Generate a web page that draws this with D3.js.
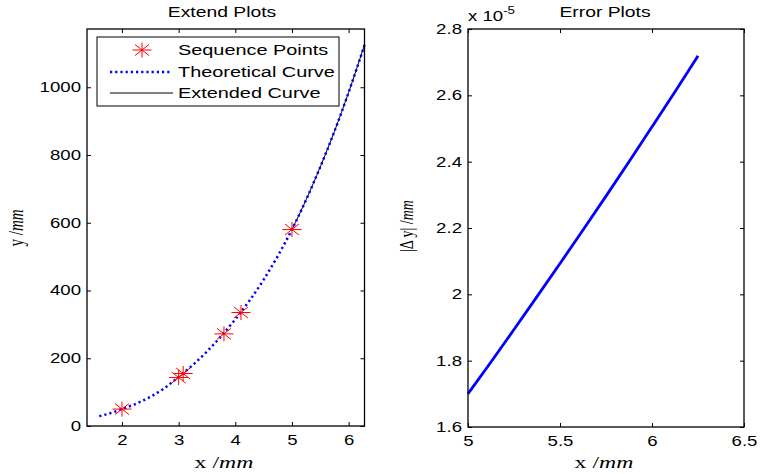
<!DOCTYPE html>
<html><head><meta charset="utf-8">
<script src="https://cdn.jsdelivr.net/npm/d3@7"></script>
<style>body{margin:0;background:#fff}svg{display:block}</style>
</head><body>
<svg id="c" width="760" height="474"></svg>
<script>
// ---- data ----
const seqX = [2.0, 3.0, 3.08, 3.8, 4.1, 5.0];
const seqY = [50, 143, 155, 272, 335, 580];
const theoX = [1.6, 1.8, 2.0, 2.25, 2.5, 2.75, 3.0, 3.25, 3.5, 3.75, 4.0, 4.25, 4.5, 4.75, 5.0, 5.25, 5.5, 5.75, 6.0, 6.28];
const theoY = [29, 38, 50, 66, 86, 112, 145, 180, 220, 265, 315, 370, 432, 502, 580, 668, 765, 870, 985, 1125];
const extX = [5.0, 5.25, 5.5, 5.75, 6.0, 6.28];
const extY = [580, 668, 765, 870, 985, 1125];
const errX = [5.0, 5.125, 5.25, 5.375, 5.5, 5.625, 5.75, 5.875, 6.0, 6.125, 6.25];
const errY = [1.700e-5, 1.796e-5, 1.894e-5, 1.993e-5, 2.093e-5, 2.194e-5, 2.296e-5, 2.400e-5, 2.505e-5, 2.611e-5, 2.719e-5];
const leftXTicks = [2, 3, 4, 5, 6];
const leftYTicks = [0, 200, 400, 600, 800, 1000];
const rightXTicks = [5, 5.5, 6, 6.5];
const rightYTicks = [1.6e-5, 1.8e-5, 2.0e-5, 2.2e-5, 2.4e-5, 2.6e-5, 2.8e-5];
const legendLabels = ["Sequence Points", "Theoretical Curve", "Extended Curve"];
const titles = ["Extend Plots", "Error Plots"];

const svg = d3.select("#c");
const SANS = "'Liberation Sans', Arial, sans-serif";
const SERIF = "'Liberation Serif', 'Times New Roman', serif";
const SX = 1.38;

function txt(g, x, y, s, size, anchor, sx) {
  return g.append("text")
    .attr("transform", `translate(${x},${y}) scale(${sx || SX},1)`)
    .attr("text-anchor", anchor || "middle")
    .attr("font-family", SANS).attr("font-size", size)
    .attr("fill", "#000").text(s);
}

function star(g, x, y) {
  const rx = 9.5, ry = 7.5, dx = 7, dy = 5.5;
  g.append("path")
    .attr("d", `M${x-rx},${y}L${x+rx},${y}M${x},${y-ry}L${x},${y+ry}M${x-dx},${y-dy}L${x+dx},${y+dy}M${x-dx},${y+dy}L${x+dx},${y-dy}`)
    .attr("stroke", "#ff0000").attr("stroke-width", 1).attr("fill", "none");
}

function frame(g, x, y, xt, yt, fmtX, fmtY) {
  const [x0, x1] = x.range(), [y0, y1] = y.range();
  const ax = (sel) => {
    sel.selectAll(".domain").remove();
    sel.selectAll("line").attr("stroke", "#000").attr("stroke-width", 1);
  };
  g.append("g").attr("transform", `translate(0,${y0})`)
    .call(d3.axisBottom(x).tickValues(xt).tickSize(-4).tickPadding(9).tickFormat(fmtX))
    .call(ax).call(s => s.selectAll("text").attr("font-family", SANS).attr("font-size", 14).attr("fill", "#000")
      .attr("transform", `scale(1.33,1)`));
  g.append("g").attr("transform", `translate(0,${y1})`)
    .call(d3.axisTop(x).tickValues(xt).tickSize(-4).tickFormat(""))
    .call(ax);
  g.append("g").attr("transform", `translate(${x0},0)`)
    .call(d3.axisLeft(y).tickValues(yt).tickSize(-4).tickPadding(0).tickFormat(fmtY))
    .call(ax).call(s => s.selectAll("text").attr("font-family", SANS).attr("font-size", 14).attr("fill", "#000")
      .attr("x", 0).attr("transform", `translate(-6,0) scale(1.33,1)`));
  g.append("g").attr("transform", `translate(${x1},0)`)
    .call(d3.axisRight(y).tickValues(yt).tickSize(-4).tickFormat(""))
    .call(ax);
  g.append("rect").attr("x", x0).attr("y", y1).attr("width", x1 - x0).attr("height", y0 - y1)
    .attr("fill", "none").attr("stroke", "#000").attr("stroke-width", 1.3);
}

function xlabel(g, cx, y) {
  const t = g.append("text").attr("transform", `translate(${cx},${y}) scale(1.4,1)`)
    .attr("text-anchor", "middle").attr("font-family", SERIF).attr("font-size", 17).attr("fill", "#000");
  t.append("tspan").text("x /");
  t.append("tspan").attr("font-style", "italic").text("mm");
}
function ylabel(g, x, cy, pre, size) {
  const t = g.append("text").attr("transform", `translate(${x},${cy}) scale(1.4,1) rotate(-90)`)
    .attr("text-anchor", "middle").attr("font-family", SERIF).attr("font-size", size).attr("fill", "#000");
  t.append("tspan").text(pre);
  t.append("tspan").attr("font-style", "italic").text("mm");
}

// ---- left plot ----
const L = svg.append("g");
const xL = d3.scaleLinear().domain([1.383, 6.28]).range([87, 364.5]);
const yL = d3.scaleLinear().domain([0, 1172]).range([426, 29]);
const line = (xs, ys, sx, sy) => d3.line().curve(d3.curveMonotoneX)
  .x((d, i) => sx(xs[i])).y((d, i) => sy(ys[i]))(xs);

L.append("path").attr("d", line(extX, extY, xL, yL)).attr("fill", "none").attr("stroke", "#000").attr("stroke-width", 1);
L.append("path").attr("d", line(theoX, theoY, xL, yL)).attr("fill", "none").attr("stroke", "#0000ff")
  .attr("stroke-width", 2.5).attr("stroke-dasharray", "2.2,3");
seqX.forEach((v, i) => star(L, xL(v), yL(seqY[i])));
frame(L, xL, yL, leftXTicks, leftYTicks, d3.format("d"), d3.format("d"));
txt(L, 222, 17, titles[0], 14);
xlabel(L, 224, 468);
ylabel(L, 23, 228, "y /", 15);

// legend
L.append("rect").attr("x", 97).attr("y", 37).attr("width", 242).attr("height", 69)
  .attr("fill", "#fff").attr("stroke", "#000").attr("stroke-width", 1);
star(L, 142, 50);
L.append("line").attr("x1", 110).attr("x2", 170).attr("y1", 72).attr("y2", 72)
  .attr("stroke", "#0000ff").attr("stroke-width", 2.5).attr("stroke-dasharray", "2.2,3");
L.append("line").attr("x1", 110).attr("x2", 173).attr("y1", 93).attr("y2", 93)
  .attr("stroke", "#000").attr("stroke-width", 1);
legendLabels.forEach((s, i) => txt(L, 178, 55 + i * 21.5, s, 14, "start", 1.42));

// ---- right plot ----
const R = svg.append("g");
const xR = d3.scaleLinear().domain([5, 6.5]).range([468, 744]);
const yR = d3.scaleLinear().domain([1.6e-5, 2.8e-5]).range([427, 29]);
R.append("path").attr("d", line(errX, errY, xR, yR)).attr("fill", "none").attr("stroke", "#0000ff").attr("stroke-width", 2.8);
frame(R, xR, yR, rightXTicks, rightYTicks, d3.format("~g"), d => d3.format("~g")(+(d * 1e5).toFixed(2)));
txt(R, 605, 17, titles[1], 14);
xlabel(R, 604, 468);
ylabel(R, 413, 226, "|\u0394 y| /", 14);
// exponent
const ex = R.append("text").attr("transform", "translate(468,21) scale(1.33,1)")
  .attr("font-family", SANS).attr("font-size", 14).attr("fill", "#000");
ex.append("tspan").text("x 10");
ex.append("tspan").attr("font-size", 10).attr("dy", -7).text("-5");
</script>
</body></html>
